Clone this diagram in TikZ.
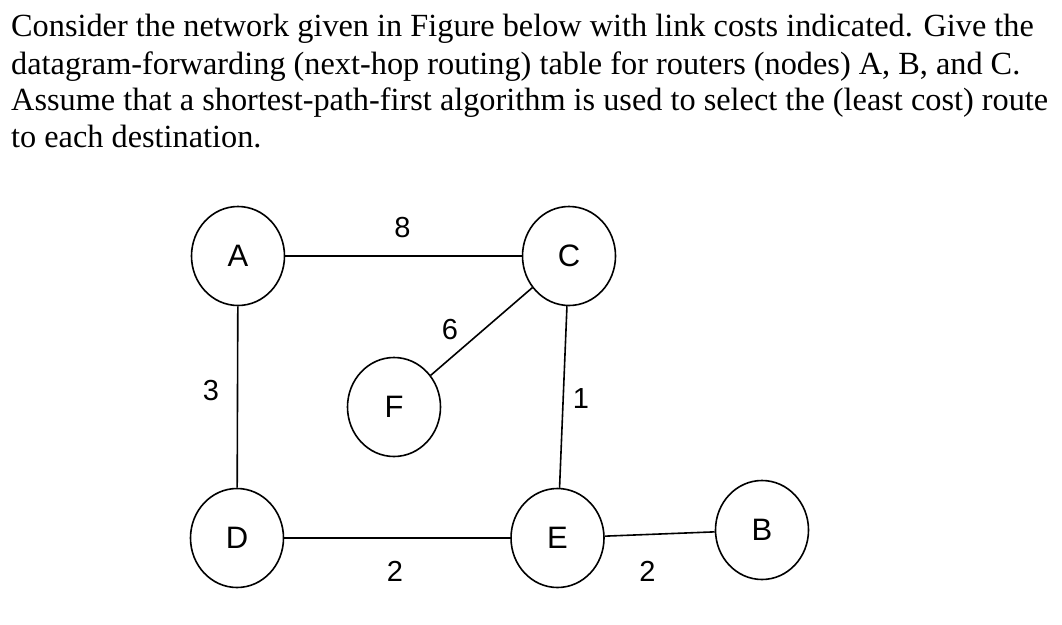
\documentclass[tikz,border=0pt]{standalone}
\usepackage{fontspec}
\setmainfont{Liberation Serif}
\newfontfamily\labelfont{Liberation Sans}
\usetikzlibrary{shapes.geometric}
\tikzset{
  router/.style={ellipse, draw, line width=1.6pt, minimum width=93pt, minimum height=99pt, inner sep=0pt, font=\labelfont\fontsize{31}{31}\selectfont},
  link/.style={line width=1.6pt},
  cost/.style={inner sep=0pt, font=\labelfont\fontsize{29}{29}\selectfont},
  prose/.style={anchor=base west, inner sep=0pt, font=\fontsize{32.3}{37}\selectfont},
}
\begin{document}
\begin{tikzpicture}[x=1pt,y=-1pt]
\useasboundingbox (0,0) rectangle (1062,624);
\node[prose] (l1) at (11,36) {Consider the network given in Figure below with link costs indicated. Give the};
\node[prose] (l2) at (11,74) {datagram-forwarding (next-hop routing) table for routers (nodes) A, B, and C.};
\node[prose] (l3) at (11,110.5) {Assume that a shortest-path-first algorithm is used to select the (least cost) route};
\node[prose] (l4) at (11,147.5) {to each destination.};

\node[router] (A) at (238,256) {A};
\node[router] (C) at (569,256) {C};
\node[router] (F) at (394,407) {F};
\node[router] (D) at (237,538) {D};
\node[router] (E) at (557.5,538) {E};
\node[router] (B) at (762,530) {B};

\draw[link] (A) -- (C);
\draw[link] (A) -- (D);
\draw[link] (C) -- (F);
\draw[link] (C) -- (E);
\draw[link] (D) -- (E);
\draw[link] (E) -- (B);

\node[cost] (c8) at (402.5,228) {8};
\node[cost] (c6) at (450,330) {6};
\node[cost] (c3) at (211,391) {3};
\node[cost] (c1) at (581,399) {1};
\node[cost] (c2a) at (395,571) {2};
\node[cost] (c2b) at (647.5,571) {2};
\end{tikzpicture}
\end{document}
